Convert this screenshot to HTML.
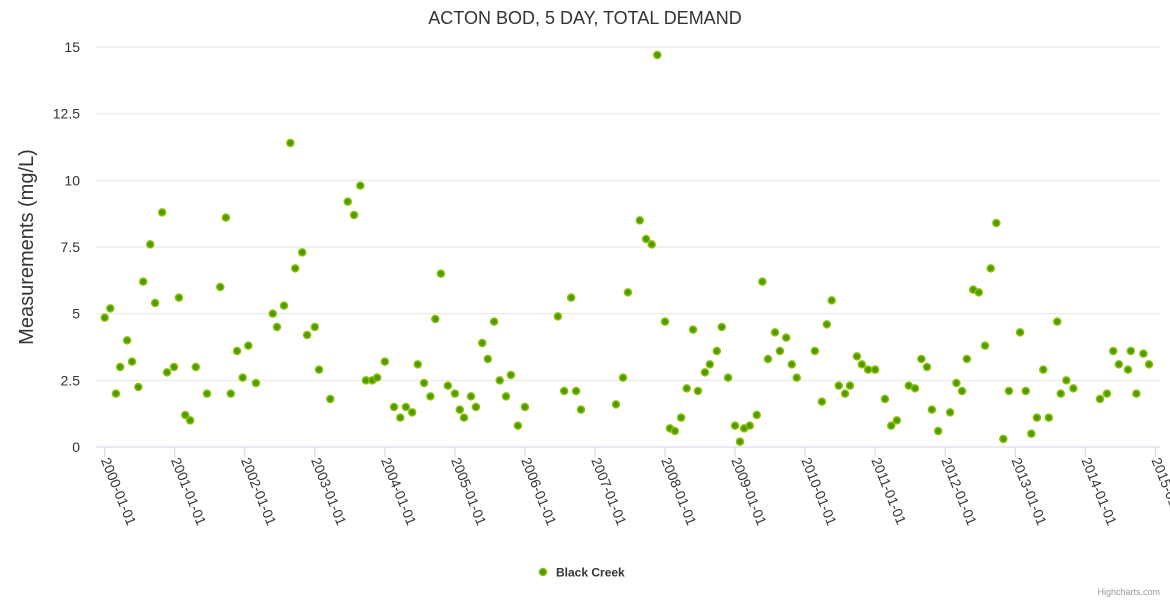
<!DOCTYPE html>
<html><head><meta charset="utf-8"><style>
html,body{margin:0;padding:0;background:#fff;}
svg{display:block;font-family:"Liberation Sans",sans-serif;}
</style></head><body>
<svg id="chart" width="1170" height="600" viewBox="0 0 1170 600" xmlns="http://www.w3.org/2000/svg">
<rect width="1170" height="600" fill="#fff"/>
<text x="585" y="24" text-anchor="middle" font-size="18" fill="#333">ACTON BOD, 5 DAY, TOTAL DEMAND</text>
<text transform="translate(33,247) rotate(-90)" text-anchor="middle" font-size="20" fill="#333">Measurements (mg/L)</text>
<g id="grid"></g><g id="xaxis"></g><g id="points"></g>
<g>
<circle cx="543" cy="572" r="3.5" fill="#4e9a06" stroke="#8bc000" stroke-width="1.5"/>
<text x="556" y="576.5" font-size="12" font-weight="bold" fill="#333">Black Creek</text>
</g>
<text x="1160" y="595" text-anchor="end" font-size="9" fill="#999">Highcharts.com</text>
</svg>
<script>
const yTicks=[0,2.5,5,7.5,10,12.5,15];
const yTickLabels=["0","2.5","5","7.5","10","12.5","15"];
const xTicks=[2000,2001,2002,2003,2004,2005,2006,2007,2008,2009,2010,2011,2012,2013,2014,2015];
const dates=[2000.00,2000.08,2000.16,2000.22,2000.32,2000.39,2000.48,2000.55,2000.65,2000.72,2000.82,2000.89,2000.99,2001.06,2001.15,2001.22,2001.30,2001.46,2001.65,2001.73,2001.80,2001.89,2001.97,2002.05,2002.16,2002.40,2002.46,2002.56,2002.65,2002.72,2002.82,2002.89,2003.00,2003.06,2003.22,2003.47,2003.56,2003.65,2003.73,2003.82,2003.89,2004.00,2004.13,2004.22,2004.30,2004.39,2004.47,2004.56,2004.65,2004.72,2004.80,2004.90,2005.00,2005.07,2005.13,2005.23,2005.30,2005.39,2005.47,2005.56,2005.64,2005.73,2005.80,2005.90,2006.00,2006.47,2006.56,2006.66,2006.73,2006.80,2007.30,2007.40,2007.47,2007.64,2007.73,2007.81,2007.89,2008.00,2008.07,2008.14,2008.23,2008.31,2008.40,2008.47,2008.57,2008.64,2008.74,2008.81,2008.90,2009.00,2009.07,2009.13,2009.21,2009.31,2009.39,2009.47,2009.57,2009.64,2009.73,2009.81,2009.88,2010.14,2010.24,2010.31,2010.38,2010.48,2010.57,2010.64,2010.74,2010.81,2010.90,2011.00,2011.14,2011.23,2011.31,2011.48,2011.57,2011.66,2011.74,2011.81,2011.90,2012.07,2012.16,2012.24,2012.31,2012.40,2012.48,2012.57,2012.65,2012.73,2012.83,2012.91,2013.07,2013.15,2013.23,2013.31,2013.40,2013.48,2013.60,2013.65,2013.73,2013.83,2014.21,2014.31,2014.40,2014.48,2014.61,2014.65,2014.73,2014.83,2014.91];
const values=[4.85,5.2,2.0,3.0,4.0,3.2,2.25,6.2,7.6,5.4,8.8,2.8,3.0,5.6,1.2,1.0,3.0,2.0,6.0,8.6,2.0,3.6,2.6,3.8,2.4,5.0,4.5,5.3,11.4,6.7,7.3,4.2,4.5,2.9,1.8,9.2,8.7,9.8,2.5,2.5,2.6,3.2,1.5,1.1,1.5,1.3,3.1,2.4,1.9,4.8,6.5,2.3,2.0,1.4,1.1,1.9,1.5,3.9,3.3,4.7,2.5,1.9,2.7,0.8,1.5,4.9,2.1,5.6,2.1,1.4,1.6,2.6,5.8,8.5,7.8,7.6,14.7,4.7,0.7,0.6,1.1,2.2,4.4,2.1,2.8,3.1,3.6,4.5,2.6,0.8,0.2,0.7,0.8,1.2,6.2,3.3,4.3,3.6,4.1,3.1,2.6,3.6,1.7,4.6,5.5,2.3,2.0,2.3,3.4,3.1,2.9,2.9,1.8,0.8,1.0,2.3,2.2,3.3,3.0,1.4,0.6,1.3,2.4,2.1,3.3,5.9,5.8,3.8,6.7,8.4,0.3,2.1,4.3,2.1,0.5,1.1,2.9,1.1,4.7,2.0,2.5,2.2,1.8,2.0,3.6,3.1,2.9,3.6,2.0,3.5,3.1];
const NS="http://www.w3.org/2000/svg";
const xScale=v=>104.7+(v-2000)*70.04;
const yScale=v=>447-v*26.667;
const grid=document.getElementById('grid');
yTicks.forEach((t,i)=>{
  const l=document.createElementNS(NS,'line');
  
  
  l.setAttribute('x1',96);l.setAttribute('x2',1160);
  l.setAttribute('y1',yScale(t));l.setAttribute('y2',yScale(t));
  l.setAttribute('stroke',i===0?'#ccd6eb':'#e6e6e6');l.setAttribute('stroke-width',1);
  grid.appendChild(l);
  const tx=document.createElementNS(NS,'text');
  
  
  tx.setAttribute('x',80);tx.setAttribute('y',yScale(t)+5);
  tx.setAttribute('text-anchor','end');tx.setAttribute('font-size','14');tx.setAttribute('fill','#333');
  tx.textContent=yTickLabels[i];grid.appendChild(tx);
});
const xa=document.getElementById('xaxis');
xTicks.forEach(t=>{
  const x=xScale(t);
  const l=document.createElementNS(NS,'line');
  
  
  l.setAttribute('x1',x);l.setAttribute('x2',x);l.setAttribute('y1',447);l.setAttribute('y2',457);
  l.setAttribute('stroke','#ccd6eb');xa.appendChild(l);
  const tx=document.createElementNS(NS,'text');
  
  
  tx.setAttribute('transform','translate('+(x-4)+',460) rotate(68)');
  tx.setAttribute('font-size','14');tx.setAttribute('fill','#333');
  tx.textContent=t+'-01-01';xa.appendChild(tx);
});
const pts=document.getElementById('points');
dates.forEach((d,i)=>{
  const c=document.createElementNS(NS,'circle');
  
  
  c.setAttribute('cx',xScale(d));c.setAttribute('cy',yScale(values[i]));
  c.setAttribute('r',3.5);c.setAttribute('fill','#4e9a06');
  c.setAttribute('stroke','#8bc000');c.setAttribute('stroke-width',1.5);
  pts.appendChild(c);
});
</script>
</body></html>
